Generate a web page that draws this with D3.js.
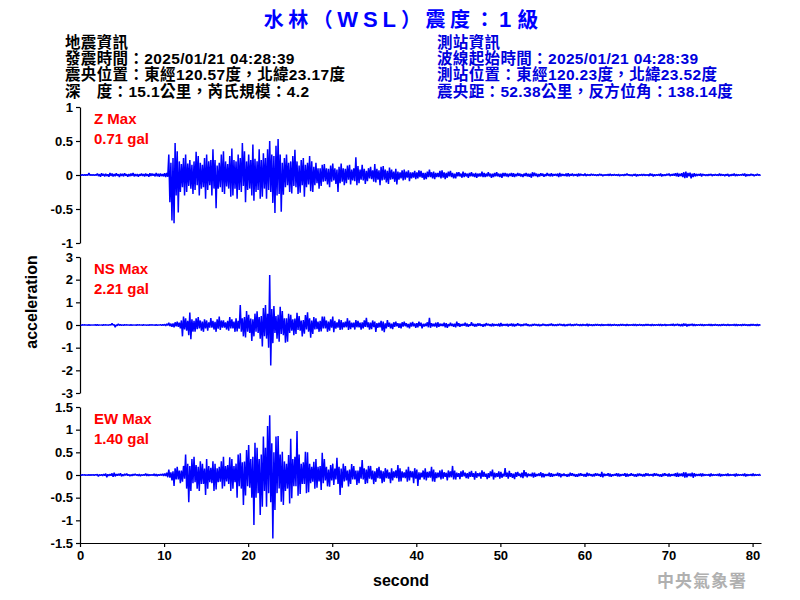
<!DOCTYPE html>
<html><head><meta charset="utf-8">
<script src="https://cdn.jsdelivr.net/npm/d3@7"></script>
<style>body{margin:0;background:#fff}svg{display:block}</style>
</head><body><svg id="c" width="800" height="600"></svg>
<script>
// ---------------- data ----------------
const titleParts = ["水林（", "WSL", "）震度：", "1", "級"];
const quakeInfo = ["地震資訊", "發震時間：2025/01/21 04:28:39", "震央位置：東經120.57度，北緯23.17度", "深　度：15.1公里，芮氏規模：4.2"];
const stationInfo = ["測站資訊", "波線起始時間：2025/01/21 04:28:39", "測站位置：東經120.23度，北緯23.52度", "震央距：52.38公里，反方位角：138.14度"];
const channelNames = ["Z Max", "NS Max", "EW Max"];
const peakLabels = ["0.71 gal", "2.21 gal", "1.40 gal"];
const yLimits = [1, 3, 1.5];
const zTicks = [-1, -0.5, 0, 0.5, 1];
const nsTicks = [-3, -2, -1, 0, 1, 2, 3];
const ewTicks = [-1.5, -1, -0.5, 0, 0.5, 1, 1.5];
const xTicks = [0, 10, 20, 30, 40, 50, 60, 70, 80];
const xMaxSec = 81;
const binSec = 0.25;   // each value pair = max / min of a 0.25 s window (gal)

const zMax = [0.004,0.005,0.004,0.005,0.03,0.006,0.005,0.004,
 0.02,0.012,0.025,0.015,0.018,0.01,0.03,0.02,0.015,0.025,0.012,0.02,0.018,0.025,0.01,0.015,0.02,0.028,0.012,0.015,0.01,0.022,0.015,0.02,0.012,0.025,0.02,0.015,0.03,0.018,0.022,0.012,0.025,0.03,
 0.30,0.18,0.25,0.47,0.35,0.2,0.16,0.25,0.3,0.17,0.22,0.15,0.2,0.34,0.28,0.18,0.15,0.25,0.3,0.2,0.22,0.38,0.22,0.14,0.18,0.3,0.35,0.2,0.16,0.28,0.39,0.22,0.2,0.3,0.25,0.47,0.35,0.2,0.3,0.22,0.45,0.24,0.2,0.38,0.22,0.32,
 0.25,0.38,0.5,0.3,0.28,0.43,0.53,0.3,0.18,0.25,0.3,0.18,0.2,0.28,0.37,0.2,0.14,0.22,0.25,0.15,0.18,0.28,0.2,0.12,0.18,0.1,0.1,0.15,0.16,0.1,0.09,0.14,0.17,0.1,0.08,0.12,0.17,0.1,0.09,0.14,0.15,0.08,0.1,0.26,0.13,0.08,0.15,0.09,0.06,0.1,0.12,0.07,0.16,0.09,0.07,0.12,0.13,0.08,0.06,0.11,0.08,0.05,0.09,0.05,0.04,0.07,0.08,0.05,0.07,0.04,0.04,0.06,
 0.04,0.07,0.06,0.03,0.03,0.05,0.08,0.04,0.05,0.03,0.03,0.06,0.07,0.04,0.03,0.05,0.06,0.03,0.02,0.04,0.04,0.02,0.05,0.03,0.02,0.03,0.04,0.02,0.03,0.02,0.02,0.05,0.03,0.02,0.04,0.02,0.02,0.03,0.04,0.02,0.02,0.03,0.03,0.02,
 0.02,0.03,0.025,0.015,0.03,0.02,0.012,0.02,0.03,0.018,0.02,0.04,0.035,0.02,0.015,0.025,0.02,0.012,0.03,0.015,
 0.025,0.012,0.015,0.02,0.03,0.015,0.01,0.02,0.025,0.012,0.02,0.01,0.012,0.02,0.015,0.008,0.02,0.01,0.008,0.015,
 0.01,0.006,0.008,0.015,0.01,0.005,0.006,0.01,0.015,0.008,0.01,0.005,0.012,0.006,0.005,0.01,0.02,0.008,0.006,0.01,0.015,0.008,0.005,0.01,0.012,0.006,0.008,0.02,0.015,0.008,0.006,0.01,0.02,0.01,0.008,0.015,0.02,0.01,0.015,0.025,
 0.03,0.018,0.025,0.04,0.05,0.03,0.035,0.02,0.025,0.015,0.012,0.02,
 0.015,0.008,0.006,0.01,0.015,0.008,0.01,0.005,0.02,0.01,0.008,0.01,0.015,0.006,0.01,0.02,0.01,0.005,0.008,0.015,0.02,0.01,0.008,0.015,0.01,0.006,0.015,0.008];
const zMin = [-0.004,-0.005,-0.004,-0.005,-0.006,-0.004,-0.005,-0.004,
 -0.015,-0.025,-0.01,-0.02,-0.015,-0.025,-0.012,-0.02,-0.018,-0.012,-0.03,-0.015,-0.02,-0.01,-0.025,-0.018,-0.012,-0.02,-0.015,-0.025,-0.01,-0.015,-0.02,-0.012,-0.025,-0.015,-0.01,-0.02,-0.018,-0.025,-0.015,-0.02,-0.03,-0.025,
 -0.4,-0.67,-0.71,-0.3,-0.55,-0.25,-0.18,-0.3,-0.25,-0.16,-0.2,-0.28,-0.22,-0.15,-0.3,-0.2,-0.18,-0.35,-0.22,-0.15,-0.3,-0.2,-0.49,-0.2,-0.18,-0.25,-0.28,-0.17,-0.2,-0.32,-0.3,-0.2,-0.35,-0.22,-0.25,-0.16,-0.4,-0.22,-0.2,-0.3,-0.38,-0.25,-0.22,-0.35,-0.32,-0.2,
 -0.35,-0.22,-0.25,-0.41,-0.56,-0.3,-0.28,-0.54,-0.29,-0.18,-0.15,-0.25,-0.27,-0.16,-0.18,-0.28,-0.26,-0.15,-0.32,-0.18,-0.14,-0.24,-0.25,-0.15,-0.12,-0.2,-0.16,-0.1,-0.09,-0.14,-0.18,-0.1,-0.08,-0.13,-0.25,-0.12,-0.1,-0.15,-0.12,-0.07,-0.14,-0.08,-0.09,-0.15,-0.12,-0.07,-0.08,-0.13,-0.09,-0.05,-0.06,-0.1,-0.11,-0.07,-0.15,-0.08,-0.07,-0.11,-0.13,-0.07,-0.06,-0.1,-0.14,-0.07,-0.05,-0.08,-0.07,-0.04,-0.09,-0.05,-0.04,-0.06,
 -0.05,-0.03,-0.04,-0.07,-0.06,-0.03,-0.03,-0.05,-0.06,-0.03,-0.03,-0.05,-0.04,-0.06,-0.04,-0.02,-0.03,-0.05,-0.05,-0.02,-0.02,-0.04,-0.03,-0.02,-0.04,-0.02,-0.02,-0.03,-0.04,-0.02,-0.02,-0.03,-0.03,-0.02,-0.02,-0.04,-0.03,-0.02,-0.02,-0.03,-0.04,-0.02,-0.02,-0.03,
 -0.015,-0.025,-0.03,-0.018,-0.012,-0.02,-0.03,-0.015,-0.02,-0.025,-0.04,-0.02,-0.015,-0.03,-0.02,-0.012,-0.025,-0.015,-0.012,-0.02,
 -0.02,-0.01,-0.015,-0.03,-0.02,-0.01,-0.012,-0.02,-0.02,-0.01,-0.015,-0.008,-0.02,-0.012,-0.006,-0.01,-0.015,-0.008,-0.01,-0.005,
 -0.006,-0.01,-0.01,-0.005,-0.015,-0.008,-0.005,-0.01,-0.01,-0.006,-0.008,-0.01,-0.015,-0.006,-0.01,-0.005,-0.006,-0.01,-0.015,-0.008,-0.02,-0.01,-0.005,-0.01,-0.01,-0.006,-0.015,-0.008,-0.02,-0.01,-0.006,-0.01,-0.02,-0.012,-0.01,-0.006,-0.015,-0.008,-0.01,-0.02,
 -0.025,-0.015,-0.03,-0.045,-0.04,-0.02,-0.05,-0.03,-0.02,-0.012,-0.01,-0.02,
 -0.006,-0.01,-0.01,-0.005,-0.015,-0.008,-0.005,-0.01,-0.01,-0.006,-0.015,-0.008,-0.02,-0.01,-0.008,-0.015,-0.01,-0.005,-0.006,-0.01,-0.02,-0.01,-0.01,-0.006,-0.015,-0.008,-0.005,-0.01];

const nsMax = [0.006,0.008,0.01,0.006,0.008,0.005,0.006,0.01,0.01,0.006,0.005,0.008,0.01,0.006,0.02,0.07,0.02,0.01,0.05,0.015,
 0.006,0.01,0.008,0.005,0.01,0.006,0.006,0.01,0.008,0.005,0.01,0.006,0.006,0.01,0.008,0.005,0.01,0.006,0.015,0.01,
 0.03,0.05,0.1,0.06,0.07,0.12,0.15,0.1,0.2,0.37,0.3,0.18,0.55,0.25,0.18,0.3,0.35,0.2,0.15,0.25,0.2,0.12,0.3,0.18,0.14,0.25,0.37,0.2,0.2,0.12,0.18,0.35,0.25,0.15,0.3,0.18,0.88,0.3,0.35,0.62,0.45,0.28,0.25,0.5,0.6,0.35,0.4,0.75,0.88,0.5,2.21,0.7,
 0.84,0.4,0.45,0.8,0.62,0.3,0.3,0.5,0.45,0.25,0.28,0.54,0.4,0.2,0.22,0.44,0.56,0.3,0.2,0.35,0.3,0.15,0.18,0.37,0.37,0.2,0.15,0.25,0.37,0.18,0.12,0.25,0.22,0.12,0.15,0.3,0.2,0.1,0.1,0.22,0.18,0.1,0.12,0.2,0.32,0.12,0.1,0.2,0.15,0.08,0.1,0.18,0.15,0.07,0.22,0.1,0.06,0.12,0.15,0.08,0.07,0.12,0.15,0.08,0.05,0.1,0.14,0.07,
 0.08,0.15,0.1,0.05,0.06,0.12,0.32,0.08,0.05,0.1,0.12,0.06,0.05,0.1,0.08,0.04,0.1,0.05,0.06,0.15,0.08,0.04,0.05,0.1,0.06,0.03,0.12,0.05,0.04,0.07,0.06,0.03,0.04,0.08,0.05,0.03,0.07,0.04,0.03,0.06,0.09,0.04,0.03,0.05,
 0.04,0.06,0.05,0.03,0.07,0.04,0.03,0.05,0.06,0.03,0.02,0.04,0.05,0.03,0.04,0.02,0.05,0.03,0.02,0.04,
 0.06,0.03,0.02,0.04,0.05,0.03,0.04,0.02,0.03,0.05,0.02,0.04,0.05,0.02,0.03,0.04,0.02,0.05,0.04,0.02,
 0.02,0.04,0.03,0.02,0.04,0.02,0.02,0.03,0.04,0.02,0.03,0.02,0.02,0.04,0.03,0.02,0.04,0.02,0.02,0.03,
 0.04,0.02,0.03,0.02,0.02,0.04,0.03,0.02,0.04,0.02,0.02,0.03,0.04,0.02,0.03,0.02,0.02,0.04,0.05,0.03,
 0.05,0.03,0.04,0.06,0.05,0.03,0.03,0.05,0.04,0.02,0.02,0.04,
 0.03,0.02,0.02,0.04,0.03,0.02,0.04,0.02,0.02,0.03,0.03,0.02,0.04,0.02,0.02,0.03,0.03,0.02,0.02,0.04,0.03,0.02,0.02,0.03,0.04,0.02,0.03,0.02];
const nsMin = [-0.008,-0.005,-0.006,-0.008,-0.01,-0.006,-0.006,-0.01,-0.008,-0.005,-0.01,-0.006,-0.006,-0.01,-0.01,-0.006,-0.1,-0.03,-0.02,-0.01,
 -0.01,-0.006,-0.006,-0.01,-0.008,-0.005,-0.01,-0.006,-0.005,-0.008,-0.006,-0.01,-0.01,-0.006,-0.006,-0.01,-0.008,-0.005,-0.015,-0.01,
 -0.04,-0.02,-0.05,-0.08,-0.1,-0.06,-0.08,-0.15,-0.5,-0.2,-0.25,-0.45,-0.63,-0.3,-0.3,-0.18,-0.15,-0.25,-0.3,-0.15,-0.25,-0.12,-0.12,-0.2,-0.3,-0.16,-0.22,-0.12,-0.12,-0.2,-0.25,-0.15,-0.15,-0.3,-0.28,-0.16,-0.3,-0.5,-0.55,-0.3,-0.35,-0.7,-0.5,-0.3,-0.35,-0.6,-0.95,-0.5,-0.6,-1.0,-1.79,-0.8,
 -0.35,-0.6,-0.74,-0.4,-0.45,-0.78,-0.74,-0.35,-0.25,-0.45,-0.4,-0.22,-0.25,-0.5,-0.38,-0.2,-0.3,-0.56,-0.4,-0.2,-0.18,-0.3,-0.28,-0.15,-0.15,-0.3,-0.25,-0.12,-0.32,-0.16,-0.12,-0.22,-0.2,-0.1,-0.1,-0.22,-0.18,-0.1,-0.2,-0.1,-0.1,-0.2,-0.15,-0.08,-0.1,-0.2,-0.18,-0.09,-0.3,-0.12,-0.1,-0.25,-0.32,-0.15,-0.08,-0.15,-0.18,-0.08,-0.06,-0.12,-0.15,-0.07,-0.05,-0.1,-0.15,-0.07,-0.06,-0.12,
 -0.1,-0.05,-0.15,-0.07,-0.05,-0.1,-0.12,-0.06,-0.06,-0.12,-0.08,-0.04,-0.05,-0.1,-0.12,-0.05,-0.04,-0.08,-0.1,-0.05,-0.08,-0.04,-0.03,-0.06,-0.08,-0.04,-0.04,-0.07,-0.06,-0.03,-0.04,-0.08,-0.05,-0.02,-0.03,-0.06,-0.05,-0.02,-0.04,-0.07,-0.05,-0.02,-0.03,-0.06,
 -0.03,-0.05,-0.06,-0.03,-0.02,-0.05,-0.04,-0.02,-0.03,-0.05,-0.05,-0.03,-0.02,-0.04,-0.05,-0.03,-0.02,-0.04,-0.04,-0.02,
 -0.03,-0.04,-0.04,-0.02,-0.02,-0.04,-0.05,-0.03,-0.02,-0.04,-0.04,-0.02,-0.02,-0.03,-0.04,-0.02,-0.03,-0.05,-0.02,-0.04,
 -0.03,-0.02,-0.02,-0.04,-0.03,-0.02,-0.02,-0.03,-0.04,-0.02,-0.02,-0.03,-0.03,-0.02,-0.02,-0.04,-0.03,-0.02,-0.02,-0.03,
 -0.04,-0.02,-0.02,-0.03,-0.03,-0.02,-0.02,-0.04,-0.03,-0.02,-0.02,-0.03,-0.04,-0.02,-0.03,-0.02,-0.02,-0.03,-0.04,-0.02,
 -0.03,-0.05,-0.05,-0.03,-0.06,-0.03,-0.02,-0.04,-0.04,-0.02,-0.02,-0.03,
 -0.04,-0.02,-0.02,-0.03,-0.03,-0.02,-0.02,-0.03,-0.04,-0.02,-0.02,-0.03,-0.03,-0.02,-0.02,-0.03,-0.03,-0.02,-0.04,-0.02,-0.02,-0.03,-0.03,-0.02,-0.02,-0.03,-0.03,-0.02];

const ewMax = [0.004,0.005,0.005,0.003,0.008,0.005,0.006,0.01,0.015,0.008,0.01,0.02,0.03,0.015,0.02,0.035,0.05,0.02,0.025,0.04,
 0.015,0.025,0.03,0.012,0.01,0.02,0.025,0.012,0.02,0.01,0.012,0.03,0.02,0.01,0.01,0.025,0.02,0.012,0.015,0.025,
 0.03,0.05,0.12,0.06,0.08,0.15,0.18,0.1,0.1,0.2,0.45,0.25,0.2,0.35,0.4,0.22,0.18,0.3,0.25,0.14,0.35,0.2,0.16,0.3,0.25,0.15,0.18,0.3,0.4,0.2,0.22,0.39,0.35,0.2,0.25,0.45,0.48,0.28,0.3,0.55,0.66,0.35,0.4,0.71,0.6,0.35,0.45,0.85,
 0.6,1.08,1.32,0.7,0.5,0.85,0.86,0.45,0.51,0.3,0.25,0.44,0.8,0.35,0.4,0.97,0.45,0.25,0.28,0.51,0.5,0.25,0.18,0.29,0.35,0.18,0.2,0.49,0.35,0.18,0.12,0.22,0.25,0.14,0.38,0.18,0.14,0.25,0.2,0.1,0.12,0.24,0.2,0.1,0.1,0.18,0.33,0.15,0.12,0.2,0.2,0.1,0.08,0.15,0.18,0.1,0.08,0.15,0.12,0.06,0.15,0.08,0.1,0.22,0.15,0.08,0.06,0.12,0.18,0.09,0.08,0.15,
 0.12,0.06,0.05,0.1,0.15,0.07,0.08,0.18,0.12,0.06,0.05,0.1,0.12,0.06,0.05,0.1,0.08,0.2,0.1,0.05,0.04,0.08,0.1,0.05,0.04,0.07,0.09,0.04,0.08,0.04,0.05,0.1,0.07,0.03,0.04,0.08,0.12,0.05,0.04,0.08,0.07,0.03,0.15,0.05,
 0.09,0.04,0.03,0.06,0.07,0.03,0.05,0.11,0.06,0.03,0.02,0.05,0.05,0.02,0.03,0.06,0.04,0.02,0.02,0.05,
 0.04,0.02,0.02,0.05,0.04,0.02,0.03,0.015,0.02,0.05,0.04,0.02,0.015,0.03,0.04,0.02,0.02,0.05,0.03,0.015,
 0.02,0.04,0.03,0.015,0.07,0.03,0.02,0.04,0.03,0.015,0.02,0.04,0.03,0.015,0.02,0.04,0.03,0.015,0.04,0.02,
 0.015,0.03,0.03,0.015,0.02,0.04,0.03,0.015,0.02,0.04,0.03,0.015,0.015,0.03,0.04,0.02,0.03,0.015,0.02,0.04,
 0.05,0.03,0.03,0.06,0.06,0.03,0.03,0.05,0.04,0.02,0.015,0.03,
 0.03,0.015,0.01,0.02,0.03,0.015,0.01,0.02,0.03,0.015,0.01,0.02,0.03,0.015,0.01,0.02,0.03,0.015,0.01,0.02,0.03,0.015,0.01,0.02,0.03,0.015,0.01,0.02];
const ewMin = [-0.005,-0.003,-0.004,-0.005,-0.006,-0.004,-0.008,-0.005,-0.03,-0.01,-0.02,-0.012,-0.05,-0.02,-0.015,-0.04,-0.03,-0.015,-0.012,-0.03,
 -0.02,-0.01,-0.012,-0.025,-0.02,-0.01,-0.01,-0.02,-0.025,-0.012,-0.01,-0.02,-0.02,-0.01,-0.012,-0.02,-0.025,-0.012,-0.01,-0.02,
 -0.02,-0.05,-0.06,-0.12,-0.24,-0.1,-0.1,-0.18,-0.15,-0.08,-0.3,-0.6,-0.35,-0.18,-0.16,-0.3,-0.35,-0.2,-0.2,-0.44,-0.3,-0.16,-0.18,-0.35,-0.32,-0.16,-0.15,-0.3,-0.25,-0.14,-0.2,-0.35,-0.3,-0.16,-0.5,-0.25,-0.3,-0.66,-0.45,-0.25,-0.28,-0.5,-1.1,-0.5,-0.4,-0.88,-0.7,-0.35,
 -0.7,-0.4,-0.6,-1.4,-0.77,-0.4,-0.3,-0.59,-0.66,-0.35,-0.3,-0.63,-0.51,-0.25,-0.25,-0.46,-0.42,-0.2,-0.2,-0.4,-0.38,-0.18,-0.15,-0.3,-0.28,-0.14,-0.33,-0.18,-0.12,-0.25,-0.26,-0.12,-0.22,-0.1,-0.2,-0.44,-0.28,-0.14,-0.12,-0.25,-0.2,-0.1,-0.1,-0.22,-0.18,-0.08,-0.1,-0.2,-0.18,-0.08,-0.1,-0.2,-0.15,-0.07,-0.08,-0.18,-0.15,-0.07,-0.08,-0.18,-0.12,-0.06,-0.07,-0.15,-0.14,-0.06,-0.07,-0.15,-0.12,-0.05,-0.18,-0.08,
 -0.24,-0.1,-0.05,-0.1,-0.12,-0.06,-0.06,-0.14,-0.15,-0.07,-0.05,-0.1,-0.08,-0.04,-0.12,-0.05,-0.05,-0.1,-0.1,-0.04,-0.09,-0.04,-0.03,-0.07,-0.08,-0.04,-0.04,-0.1,-0.06,-0.03,-0.08,-0.04,-0.04,-0.09,-0.06,-0.03,-0.1,-0.05,-0.04,-0.08,-0.06,-0.03,-0.04,-0.08,
 -0.04,-0.06,-0.09,-0.04,-0.02,-0.05,-0.07,-0.03,-0.05,-0.02,-0.03,-0.06,-0.04,-0.02,-0.02,-0.05,-0.05,-0.02,-0.02,-0.04,
 -0.04,-0.02,-0.015,-0.03,-0.05,-0.02,-0.02,-0.04,-0.03,-0.015,-0.02,-0.04,-0.04,-0.02,-0.015,-0.03,-0.04,-0.02,-0.015,-0.03,
 -0.03,-0.015,-0.015,-0.04,-0.05,-0.02,-0.015,-0.03,-0.04,-0.02,-0.015,-0.03,-0.03,-0.015,-0.015,-0.04,-0.03,-0.015,-0.015,-0.03,
 -0.04,-0.02,-0.015,-0.03,-0.03,-0.015,-0.02,-0.01,-0.03,-0.015,-0.015,-0.03,-0.04,-0.02,-0.015,-0.03,-0.03,-0.015,-0.02,-0.04,
 -0.04,-0.02,-0.03,-0.06,-0.05,-0.02,-0.03,-0.06,-0.03,-0.015,-0.015,-0.03,
 -0.02,-0.01,-0.01,-0.03,-0.02,-0.01,-0.01,-0.02,-0.03,-0.015,-0.01,-0.02,-0.02,-0.01,-0.01,-0.03,-0.02,-0.01,-0.01,-0.02,-0.03,-0.015,-0.01,-0.02,-0.02,-0.01,-0.01,-0.02];

const seriesMax = [zMax, nsMax, ewMax];
const seriesMin = [zMin, nsMin, ewMin];
const tickSets = [zTicks, nsTicks, ewTicks];

// ---------------- drawing ----------------
const FONT = "'Liberation Sans', Arial, 'Noto Sans CJK TC', sans-serif";
const svg = d3.select("#c");
svg.append("rect").attr("width", 800).attr("height", 600).attr("fill", "#fff");

const left = 80, right = 761;
const panelTop = [107, 257, 407], panelH = 136;
const x = d3.scaleLinear().domain([0, xMaxSec]).range([left, right]);

// title
const title = svg.append("text").attr("x", 401).attr("y", 27).attr("text-anchor", "middle")
  .attr("font-family", FONT).attr("font-weight", "bold").attr("fill", "#0000ff");
const titleStyle = [
  {size: 20, ls: 4.5}, {size: 22, ls: 5}, {size: 20, ls: 4.5}, {size: 22, ls: 6}, {size: 21, ls: 0}
];
titleParts.forEach((p, i) => {
  title.append("tspan").attr("font-size", titleStyle[i].size)
    .attr("letter-spacing", titleStyle[i].ls).text(p);
});

// info blocks
function infoBlock(lines, x0, color) {
  svg.append("g").selectAll("text").data(lines).join("text")
    .attr("x", x0).attr("y", (d, i) => 48 + i * 16.2)
    .attr("font-family", FONT).attr("font-size", 15.5).attr("font-weight", "bold")
    .attr("letter-spacing", 0.35)
    .attr("fill", color).text(d => d);
}
infoBlock(quakeInfo, 65, "#000");
infoBlock(stationInfo, 437, "#0000dd");

const line = d3.line();

channelNames.forEach((name, k) => {
  const top = panelTop[k];
  const lim = yLimits[k];
  const y = d3.scaleLinear().domain([-lim, lim]).range([top + panelH, top]);
  const g = svg.append("g");

  // y axis
  const ax = g.append("g").attr("transform", `translate(${left},0)`)
    .call(d3.axisLeft(y).tickValues(tickSets[k]).tickFormat(d => String(d))
      .tickSize(4).tickSizeOuter(0).tickPadding(3));
  ax.select(".domain").attr("stroke", "#000").attr("stroke-width", 1.2);
  ax.selectAll(".tick line").attr("stroke", "#000").attr("stroke-width", 1.2);
  ax.selectAll(".tick text").attr("font-family", FONT).attr("font-size", 13)
    .attr("font-weight", "bold").attr("fill", "#000");

  // waveform (max/min zig-zag per window)
  const mx = seriesMax[k], mn = seriesMin[k];
  const n = Math.min(mx.length, mn.length);
  const pts = [];
  for (let i = 0; i < n; i++) {
    pts.push([x(i * binSec + binSec * 0.25), y(mx[i])]);
    pts.push([x(i * binSec + binSec * 0.75), y(mn[i])]);
  }
  g.append("path").attr("d", line(pts)).attr("fill", "none")
    .attr("stroke", "#0000ff").attr("stroke-width", 1.5).attr("stroke-linejoin", "bevel");

  // labels
  g.append("text").attr("x", 94).attr("y", top + 16.5)
    .attr("font-family", FONT).attr("font-size", 15).attr("font-weight", "bold")
    .attr("fill", "#ff0000").text(name);
  g.append("text").attr("x", 94).attr("y", top + 37)
    .attr("font-family", FONT).attr("font-size", 15).attr("font-weight", "bold")
    .attr("fill", "#ff0000").text(peakLabels[k]);

  if (k === 2) {
    const xa = g.append("g").attr("transform", `translate(0,${top + panelH})`)
      .call(d3.axisBottom(x).tickValues(xTicks).tickFormat(d => String(d))
        .tickSize(4).tickSizeOuter(0).tickPadding(4));
    xa.select(".domain").attr("stroke", "#000").attr("stroke-width", 1.2);
    xa.selectAll(".tick line").attr("stroke", "#000").attr("stroke-width", 1.2);
    xa.selectAll(".tick text").attr("font-family", FONT).attr("font-size", 13)
      .attr("font-weight", "bold").attr("fill", "#000");
  }
});

// axis titles
svg.append("text").attr("transform", "translate(37,302) rotate(-90)")
  .attr("text-anchor", "middle").attr("font-family", FONT).attr("font-size", 16)
  .attr("font-weight", "bold").attr("fill", "#000").text("acceleration");
svg.append("text").attr("x", 401).attr("y", 586)
  .attr("text-anchor", "middle").attr("font-family", FONT).attr("font-size", 16)
  .attr("font-weight", "bold").attr("fill", "#000").text("second");

// watermark
svg.append("text").attr("x", 657).attr("y", 587)
  .attr("font-family", "'Noto Sans CJK TC', sans-serif").attr("font-size", 17)
  .attr("font-weight", "bold").attr("letter-spacing", 1).attr("fill", "#b0b0b0").text("中央氣象署");
</script>
</body></html>
